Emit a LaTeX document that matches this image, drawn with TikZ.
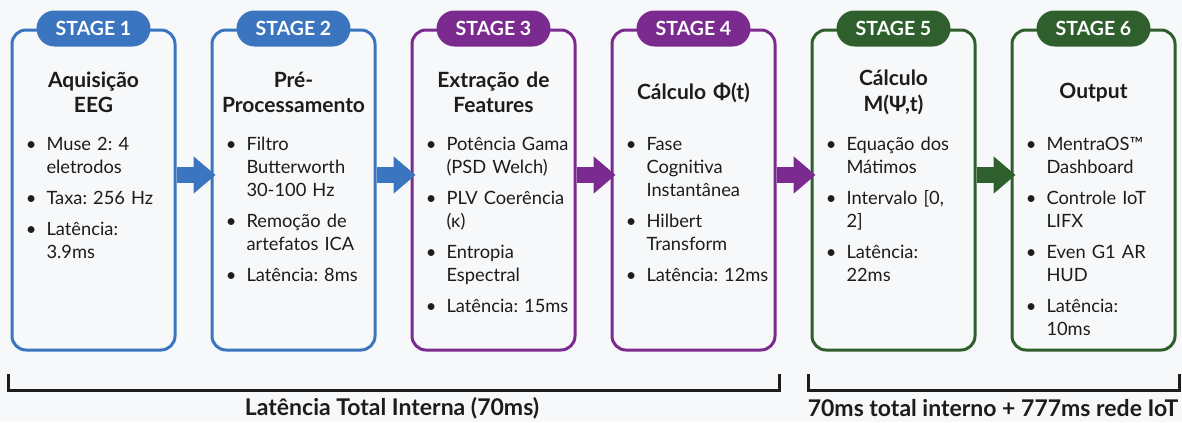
\documentclass[tikz,border=0pt]{standalone}
\usepackage{fontspec}
\setmainfont{Lato}
\usepackage{xcolor}
\usepackage{enumitem}
\usetikzlibrary{positioning,arrows.meta}
\definecolor{stblue}{HTML}{3B75BF}
\definecolor{stpurple}{HTML}{7B2B8F}
\definecolor{stgreen}{HTML}{2E5F2C}
\definecolor{ink}{HTML}{1C1C1C}
\definecolor{paper}{HTML}{F7F8F9}
\setlist[itemize]{label=\textbullet, leftmargin=30pt, labelsep=10pt, itemsep=8pt, topsep=0pt, parsep=0pt, partopsep=0pt}
\frenchspacing

\begin{document}
\begin{tikzpicture}[x=1pt, y=-1pt, every node/.append style={text=ink},
  stage/.style={draw=#1, line width=3pt, rounded corners=14pt, minimum width=163pt, minimum height=320pt},
  tag/.style={fill=#1, text=white, font=\fontsize{19.5}{19.5}\selectfont\bfseries, rounded corners=18pt, minimum width=114pt, minimum height=36pt, inner sep=0pt},
  head/.style={font=\fontsize{21}{25.5}\selectfont\bfseries, align=center, text width=162pt, minimum height=52pt, inner sep=0pt},
  items/.style={font=\fontsize{18.3}{23}\selectfont, text width=154pt, inner sep=0pt, below=9pt of #1},
  flow/.style={draw=#1, line width=16pt, -{Triangle[length=22pt, width=36pt]}},
  bracket/.style={draw=ink, line width=3pt},
  total/.style={font=\fontsize{23}{23}\selectfont\bfseries}]
  \fill[paper] (0,0) rectangle (1182,422);
  \node[stage=stblue] (s1) at (93.5,190) {};
  \node[stage=stblue] (s2) at (293.5,190) {};
  \node[stage=stpurple] (s3) at (493.5,190) {};
  \node[stage=stpurple] (s4) at (693.5,190) {};
  \node[stage=stgreen] (s5) at (893.5,190) {};
  \node[stage=stgreen] (s6) at (1093.5,190) {};
  \node[tag=stblue] (p1) at (s1.north) {STAGE 1};
  \node[tag=stblue] (p2) at (s2.north) {STAGE 2};
  \node[tag=stpurple] (p3) at (s3.north) {STAGE 3};
  \node[tag=stpurple] (p4) at (s4.north) {STAGE 4};
  \node[tag=stgreen] (p5) at (s5.north) {STAGE 5};
  \node[tag=stgreen] (p6) at (s6.north) {STAGE 6};
  \node[head] (t1) at ([shift={(0,64)}]s1.north) {Aquisição\\EEG};
  \node[head] (t2) at ([shift={(0,64)}]s2.north) {Pré-\\Processamento};
  \node[head] (t3) at ([shift={(0,64)}]s3.north) {Extração de\\Features};
  \node[head] (t4) at ([shift={(0,64)}]s4.north) {Cálculo Φ(t)};
  \node[head] (t5) at ([shift={(0,64)}]s5.north) {Cálculo\\M(Ψ,t)};
  \node[head] (t6) at ([shift={(0,64)}]s6.north) {Output};
  \node[items=t1] (l1) {\begin{itemize}
    \item Muse 2: 4\newline eletrodos
    \item Taxa: 256 Hz
    \item Latência:\newline 3.9ms
  \end{itemize}};
  \node[items=t2] (l2) {\begin{itemize}
    \item Filtro\newline Butterworth\newline 30-100 Hz
    \item Remoção de\newline artefatos ICA
    \item Latência: 8ms
  \end{itemize}};
  \node[items=t3] (l3) {\begin{itemize}
    \item Potência Gama\newline (PSD Welch)
    \item PLV Coerência\newline (κ)
    \item Entropia\newline Espectral
    \item Latência: 15ms
  \end{itemize}};
  \node[items=t4] (l4) {\begin{itemize}
    \item Fase\newline Cognitiva\newline Instantânea
    \item Hilbert\newline Transform
    \item Latência: 12ms
  \end{itemize}};
  \node[items=t5] (l5) {\begin{itemize}
    \item Equação dos\newline Mátimos
    \item Intervalo [0,\newline 2]
    \item Latência:\newline 22ms
  \end{itemize}};
  \node[items=t6] (l6) {\begin{itemize}
    \item MentraOS™\newline Dashboard
    \item Controle IoT\newline LIFX
    \item Even G1 AR\newline HUD
    \item Latência:\newline 10ms
  \end{itemize}};
  \draw[flow=stblue] ([shift={(0,-15)}]s1.east) -- ([shift={(5,-15)}]s2.west);
  \draw[flow=stblue] ([shift={(0,-15)}]s2.east) -- ([shift={(5,-15)}]s3.west);
  \draw[flow=stpurple] ([shift={(0,-15)}]s3.east) -- ([shift={(5,-15)}]s4.west);
  \draw[flow=stpurple] ([shift={(0,-15)}]s4.east) -- ([shift={(5,-15)}]s5.west);
  \draw[flow=stgreen] ([shift={(0,-15)}]s5.east) -- ([shift={(5,-15)}]s6.west);
  \draw[bracket] ([shift={(-2,22)}]s1.south west) -- ++(0,17) -| ([shift={(3,22)}]s4.south east);
  \draw[bracket] ([shift={(-2,22)}]s5.south west) -- ++(0,17) -| ([shift={(3,22)}]s6.south east);
  \node[total] (n1) at (392,408) {Latência Total Interna (70ms)};
  \node[total] (n2) at (993,408) {70ms total interno + 777ms rede IoT};
\end{tikzpicture}
\end{document}
